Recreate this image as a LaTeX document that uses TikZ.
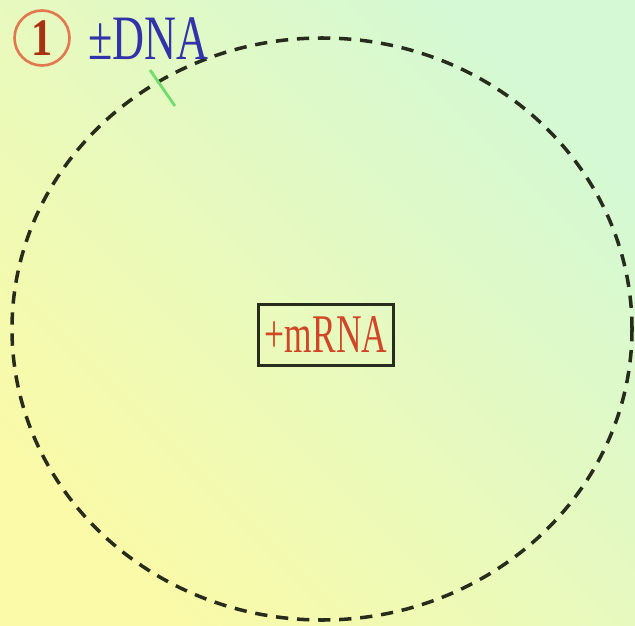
\documentclass[tikz,border=0pt]{standalone}
\usepackage{fontspec}
\setmainfont{Liberation Serif}
\usetikzlibrary{positioning}
\definecolor{bgyellow}{RGB}{250,250,168}
\definecolor{bggreen}{RGB}{212,249,212}
\definecolor{ringline}{RGB}{40,44,28}
\definecolor{dnablue}{RGB}{50,50,170}
\definecolor{rnared}{RGB}{210,70,40}
\definecolor{numbrown}{RGB}{170,50,20}
\definecolor{numring}{RGB}{225,120,80}
\definecolor{tickgreen}{RGB}{110,220,110}
\begin{document}
\begin{tikzpicture}[x=0.02cm,y=-0.02cm,
  ring/.style={draw=ringline,line width=2pt,dash pattern=on 7pt off 5pt},
  stepmark/.style={circle,draw=numring,line width=1.5pt,minimum size=1.1cm,inner sep=0pt,text=numbrown},
  boxlabel/.style={draw=ringline,line width=1.7pt,minimum width=2.7cm,minimum height=1.22cm,inner sep=0pt}]
% background
\shade[top color=bggreen,bottom color=bgyellow,shading angle=-45] (0,0) rectangle (635,625);
\useasboundingbox (0,0) rectangle (635,625);
% dashed boundary
\draw[ring] (322,329) ellipse [x radius=310, y radius=291];
% numbering and strand
\node[stepmark] (step1) at (42,38) {\fontsize{30}{30}\selectfont\scalebox{0.8}[1]{\textbf{1}}};
\node[anchor=base west,text=dnablue,inner sep=0pt] (dna) at (88,60) {\fontsize{36}{36}\selectfont\scalebox{0.7}[1]{±DNA}};
% small green mark
\draw[tickgreen,line width=1.6pt] (150,70) -- (175,106);
% boxed product
\node[boxlabel,text=rnared] (mrna) at (326,335) {\fontsize{31}{31}\selectfont\scalebox{0.65}[1]{+mRNA}};
\end{tikzpicture}
\end{document}
